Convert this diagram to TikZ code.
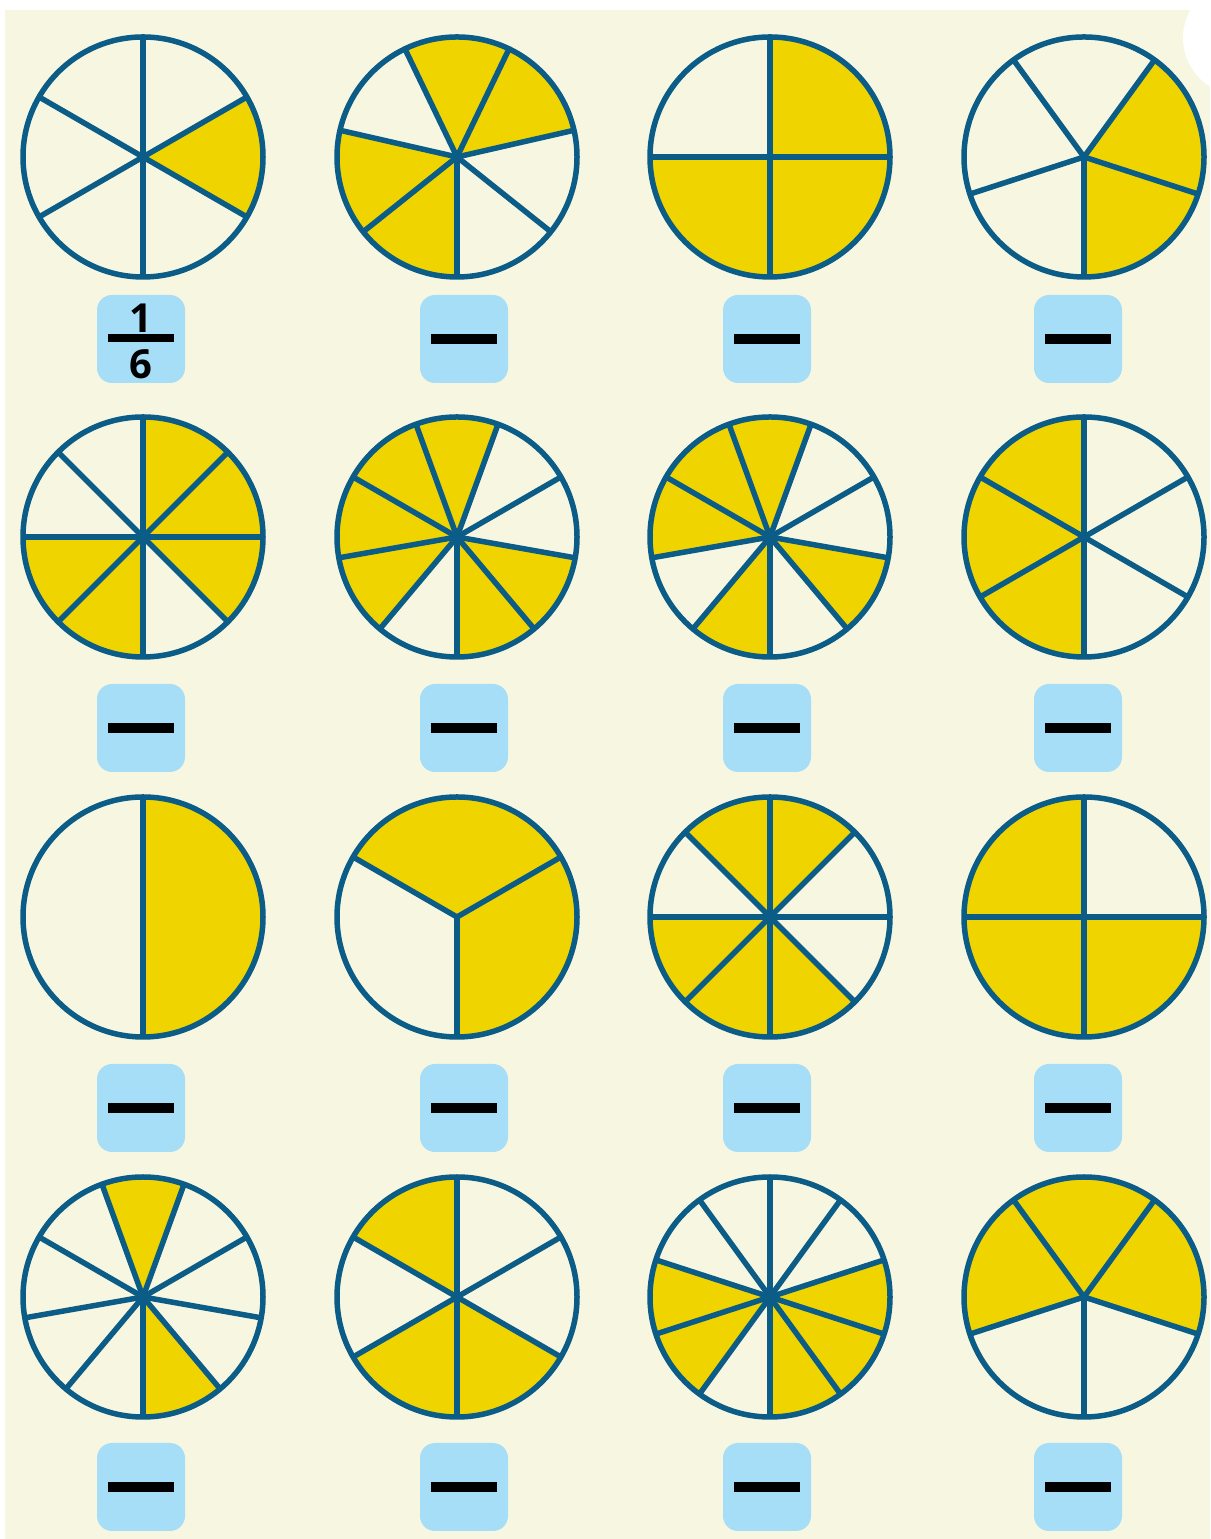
\documentclass[tikz,border=0pt]{standalone}
\usepackage{fontspec}
\setmainfont{Open Sans}
\definecolor{cream}{HTML}{F7F7E1}
\definecolor{piebl}{HTML}{0B5C86}
\definecolor{pieyel}{HTML}{F0D400}
\definecolor{lblblue}{HTML}{A6DDF7}
\newcommand\mypie[4]{%
  \foreach \k in {#4}{%
    \fill[pieyel] (#1) -- ++({#3+\k*360/#2}:120) arc[start angle={#3+\k*360/#2}, delta angle={360/#2}, radius=120] -- cycle;
  }%
  \foreach \k in {1,...,#2}{%
    \draw[spoke] (#1) -- ++({#3+\k*360/#2}:120);
  }%
  \draw[rim] (#1) circle[radius=120];
}
\begin{document}
\begin{tikzpicture}[x=1pt,y=1pt,
  spoke/.style={draw=piebl,line width=5.5pt},
  rim/.style={draw=piebl,line width=5.5pt},
  lbl/.style={fill=lblblue,rounded corners=15pt,minimum width=88pt,minimum height=88pt,inner sep=0pt},
  bar/.style={fill=black},
  digit/.style={font=\fontsize{40}{40}\selectfont\bfseries,inner sep=0pt}]
\useasboundingbox (0,0) rectangle (1210,1539);
\begin{scope}
\clip (0,0) rectangle (1210,1539);
\fill[white] (0,0) rectangle (1210,1539);
\fill[cream] (5,0) rectangle (1210,1529);
\fill[white] (1240,1501) circle[radius=57];
\end{scope}
% pie centres
\foreach \r/\y in {1/1382,2/1002,3/622,4/242}{
  \foreach \c/\x in {1/143,2/457,3/770,4/1084}{
    \coordinate (p\r\c) at (\x,\y);
  }
}
% row 1
\mypie{p11}{6}{-30}{0}
\mypie{p12}{7}{-90}{2,3,5,6}
\mypie{p13}{4}{0}{0,2,3}
\mypie{p14}{5}{-90}{0,1}
% row 2
\mypie{p21}{8}{0}{0,1,4,5,7}
\mypie{p22}{9}{-90}{0,1,4,5,6,7}
\mypie{p23}{9}{-90}{1,4,5,6,8}
\mypie{p24}{6}{-30}{2,3,4}
% row 3
\mypie{p31}{2}{-90}{0}
\mypie{p32}{3}{-90}{0,1}
\mypie{p33}{8}{0}{1,2,4,5,6}
\mypie{p34}{4}{0}{1,2,3}
% row 4
\mypie{p41}{9}{-90}{0,4}
\mypie{p42}{6}{-30}{2,4,5}
\mypie{p43}{10}{-90}{0,1,2,7,8}
\mypie{p44}{5}{-90}{1,2,3}
% label boxes
\foreach \r/\y in {1/1200,2/811,3/431,4/52}{
  \foreach \c/\x in {1/141,2/464,3/767,4/1078}{
    \node[lbl] (b\r\c) at (\x,\y) {};
  }
}
% first box: 1/6
\fill[bar] ([xshift=-33pt,yshift=-3pt]b11.center) rectangle ([xshift=33pt,yshift=5pt]b11.center);
\node[digit] (num) at ([yshift=21pt]b11.center) {1};
\node[digit] (den) at ([yshift=-25pt]b11.center) {6};
% other boxes: blank bars
\foreach \n in {b12,b13,b14,b21,b22,b23,b24,b31,b32,b33,b34,b41,b42,b43,b44}{
  \fill[bar] ([xshift=-33pt,yshift=-5pt]\n.center) rectangle ([xshift=33pt,yshift=5pt]\n.center);
}
\end{tikzpicture}
\end{document}
